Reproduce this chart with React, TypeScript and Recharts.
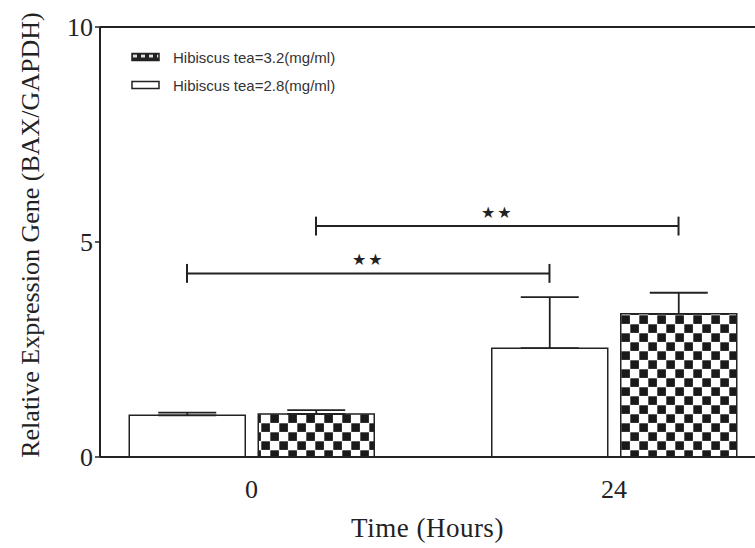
import {
  Bar,
  BarChart,
  ErrorBar,
  Legend,
  ReferenceLine,
  XAxis,
  YAxis,
} from "recharts"

const categories = ["0", "24"]
const tea28 = [0.97, 2.53]
const tea28Err = [0.06, 1.19]
const tea32 = [1.0, 3.33]
const tea32Err = [0.09, 0.49]
const yTicks = [0, 5, 10]

// significance brackets, x in band units of the hidden numeric axis
const brackets = [
  { x1: 0.322, x2: 1.322, y: 4.27, text: "★★" },
  { x1: 0.678, x2: 1.678, y: 5.37, text: "★★" },
]

const data = categories.map((time, i) => ({
  time,
  pos: i + 0.5,
  tea28: tea28[i],
  tea28Err: [0, tea28Err[i]],
  tea32: tea32[i],
  tea32Err: [0, tea32Err[i]],
}))

const serif = "'Liberation Serif', 'Times New Roman', serif"
const ink = "#222"
const pad = { left: -29.75, right: -40.25 }

function LegendBox() {
  const items = [
    { name: "Hibiscus tea=3.2(mg/ml)", fill: "url(#checkerSmall)" },
    { name: "Hibiscus tea=2.8(mg/ml)", fill: "#fff" },
  ]
  return (
    <div style={{ fontFamily: "'Liberation Sans', Arial, sans-serif", fontSize: 15, color: "#333" }}>
      {items.map((it) => (
        <div key={it.name} style={{ display: "flex", alignItems: "center", height: 28 }}>
          <svg width={30} height={10} style={{ marginRight: 12 }}>
            <rect x={1} y={1.5} width={27} height={7} fill={it.fill} stroke={ink} strokeWidth={1.5} />
          </svg>
          <span>{it.name}</span>
        </div>
      ))}
    </div>
  )
}

export default function App() {
  return (
    <div style={{ position: "absolute", left: 0, top: 0, background: "#fff" }}>
      <BarChart
        width={755}
        height={548}
        data={data}
        margin={{ top: 27, right: 0, bottom: 0, left: 0 }}
        barSize={116}
        barGap={13}
      >
        <defs>
          <pattern id="checker" patternUnits="userSpaceOnUse" width={18} height={18}>
            <rect x={0} y={0} width={18} height={18} fill="#fff" />
            <rect x={0.3} y={0.3} width={8.6} height={8.6} fill="#1a1a1a" />
            <rect x={9.3} y={9.3} width={8.6} height={8.6} fill="#1a1a1a" />
          </pattern>
          <pattern id="checkerSmall" patternUnits="userSpaceOnUse" width={8} height={8}>
            <rect x={0} y={0} width={8} height={8} fill="#222" />
            <rect x={2} y={2.5} width={4} height={3} fill="#ddd" />
          </pattern>
        </defs>

        <XAxis
          dataKey="time"
          padding={pad}
          tickLine={false}
          tickMargin={17}
          height={91}
          axisLine={{ stroke: ink, strokeWidth: 2 }}
          tick={{ fill: ink, fontSize: 26, fontFamily: serif }}
          label={{
            value: "Time (Hours)",
            position: "insideBottom",
            offset: 11,
            style: { fill: ink, fontSize: 27, fontFamily: serif, letterSpacing: 0.5 },
          }}
        />

        <XAxis
          xAxisId="n"
          dataKey="pos"
          type="number"
          domain={[0, 2]}
          allowDataOverflow
          padding={pad}
          hide
        />

        <YAxis
          width={100}
          domain={[0, 10]}
          ticks={yTicks}
          tickSize={5}
          tickMargin={2}
          axisLine={{ stroke: ink, strokeWidth: 2 }}
          tickLine={{ stroke: ink, strokeWidth: 1.5 }}
          tick={{ fill: ink, fontSize: 26, fontFamily: serif }}
          label={{
            value: "Relative Expression Gene (BAX/GAPDH)",
            angle: -90,
            position: "center",
            dx: -20,
            dy: -7,
            style: { fill: ink, fontSize: 26, fontFamily: serif, textAnchor: "middle" },
          }}
        />

        <ReferenceLine y={10} stroke={ink} strokeWidth={2} />

        <Legend
          layout="vertical"
          align="center"
          verticalAlign="middle"
          wrapperStyle={{ left: 131, top: 43, width: "auto" }}
          content={() => <LegendBox />}
        />

        <Bar
          dataKey="tea28"
          name="Hibiscus tea=2.8(mg/ml)"
          fill="#fff"
          stroke={ink}
          strokeWidth={1.5}
          isAnimationActive={false}
        >
          <ErrorBar dataKey="tea28Err" width={29} stroke={ink} strokeWidth={1.8} />
        </Bar>

        <Bar
          dataKey="tea32"
          name="Hibiscus tea=3.2(mg/ml)"
          fill="url(#checker)"
          stroke={ink}
          strokeWidth={1.5}
          isAnimationActive={false}
        >
          <ErrorBar dataKey="tea32Err" width={29} stroke={ink} strokeWidth={1.8} />
        </Bar>

        {brackets.map((b, i) => (
          <ReferenceLine
            key={"b" + i}
            xAxisId="n"
            ifOverflow="visible"
            segment={[{ x: b.x1, y: b.y }, { x: b.x2, y: b.y }]}
            stroke={ink}
            strokeWidth={2}
            label={{
              value: b.text,
              position: "top",
              offset: 8,
              style: { fill: ink, fontSize: 16, fontFamily: "'DejaVu Sans', sans-serif", letterSpacing: 2 },
            }}
          />
        ))}
        {brackets.flatMap((b, i) =>
          [b.x1, b.x2].map((x, j) => (
            <ReferenceLine
              key={"t" + i + j}
              xAxisId="n"
              ifOverflow="visible"
              segment={[{ x, y: b.y - 0.22 }, { x, y: b.y + 0.22 }]}
              stroke={ink}
              strokeWidth={2}
            />
          ))
        )}
      </BarChart>
    </div>
  )
}
